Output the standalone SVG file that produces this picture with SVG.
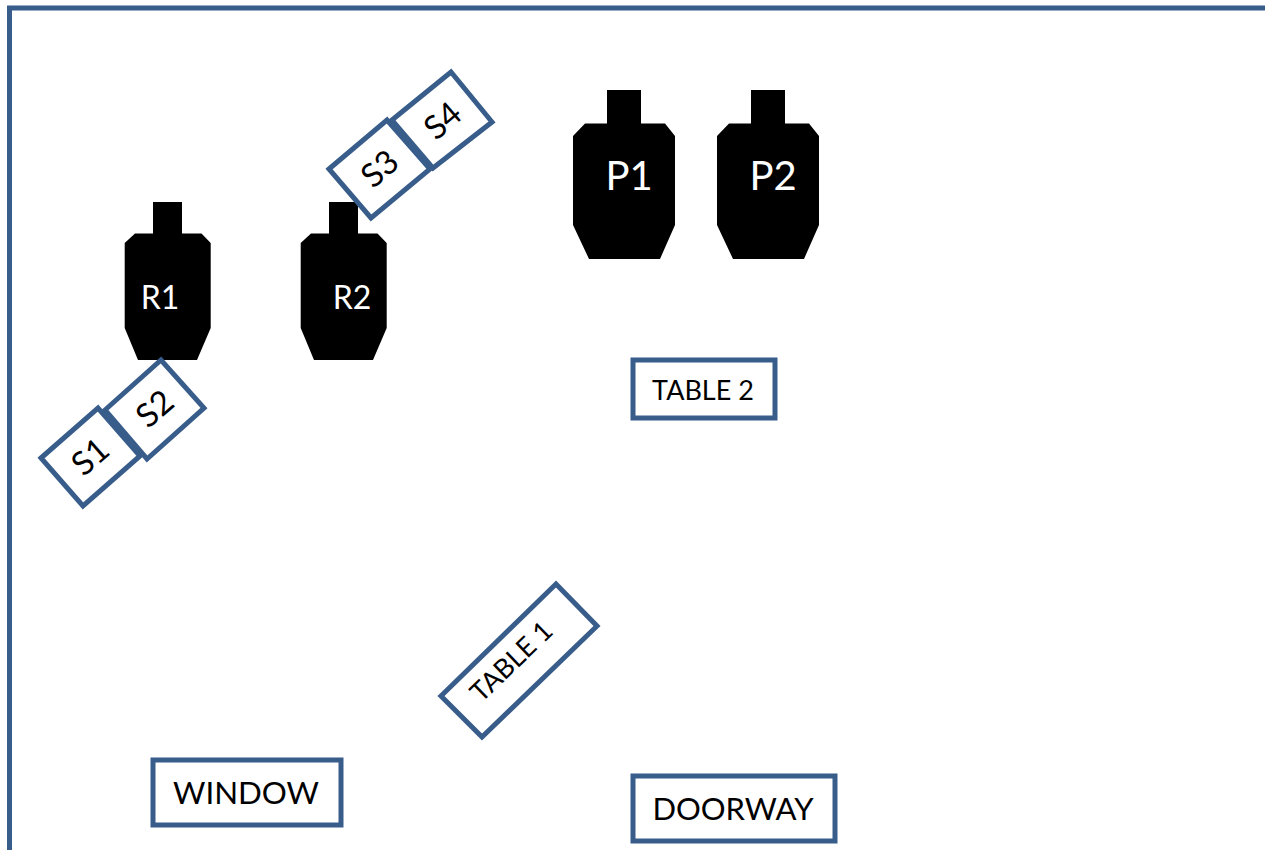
<svg xmlns="http://www.w3.org/2000/svg" width="1265" height="850" viewBox="0 0 1265 850">
<style>
.b{fill:#fff;stroke:#385d8a;stroke-width:5}
.t{font-family:"Lato","Liberation Sans",sans-serif;fill:#000;text-anchor:middle}
.w{font-family:"Lato","Liberation Sans",sans-serif;fill:#fff;text-anchor:middle}
.f{fill:#000}
</style>
<rect width="1265" height="850" fill="#fff"/>
<path id="room" d="M1265 8H9.500V850" fill="none" stroke="#385d8a" stroke-width="5"/>
<g id="R1"><path class="f" d="M153 202H182V233.500H201.500L210.700 243V328L197 360H138L124.700 328V243L135 233.500H153Z"/><text class="w" x="160" y="309" font-size="32">R1</text></g>
<g id="R2"><path class="f" d="M329 202H358V233.500H377.500L386.700 243V328L373 360H314L300.700 328V243L311 233.500H329Z"/><text class="w" x="352" y="309" font-size="32">R2</text></g>
<g id="P1"><path class="f" d="M607 90H641V123.500H665L675 136V225L660 259H589L573 225V136L585 123.500H607Z"/><text class="w" x="629" y="190" font-size="40">P1</text></g>
<g id="P2"><path class="f" d="M751 90H785V123.500H809L819 136V225L804 259H733L717 225V136L729 123.500H751Z"/><text class="w" x="773" y="190" font-size="40">P2</text></g>
<g id="S2"><path class="b" d="M105 410L161 360L204 408L147 459Z"/><text class="t" transform="translate(155 409) rotate(-41)" y="11" font-size="33">S2</text></g>
<g id="S1"><path class="b" d="M41 458L98 408L140 456L83 506Z"/><text class="t" transform="translate(90.500 457) rotate(-41)" y="11" font-size="33">S1</text></g>
<g id="S4"><path class="b" d="M392 120L451 72L492 122L433 168Z"/><text class="t" transform="translate(443 121) rotate(-41)" y="11" font-size="33">S4</text></g>
<g id="S3"><path class="b" d="M329 169L387 120L430 169L371 218Z"/><text class="t" transform="translate(380 169) rotate(-41)" y="11" font-size="33">S3</text></g>
<g id="table2"><rect class="b" x="633" y="360" width="142" height="58"/><text class="t" x="703" y="400" font-size="27">TABLE 2</text></g>
<g id="table1"><path class="b" d="M441 696L556 584L597 626L482 737Z"/><text class="t" transform="translate(511 661) rotate(-44)" y="10" font-size="27">TABLE 1</text></g>
<g id="window"><rect class="b" x="153" y="760" width="188" height="65"/><text class="t" x="246" y="804" font-size="31.300">WINDOW</text></g>
<g id="doorway"><rect class="b" x="633" y="776" width="202" height="65"/><text class="t" x="733" y="820" font-size="31">DOORWAY</text></g>
<g id="connectors"/>
</svg>
